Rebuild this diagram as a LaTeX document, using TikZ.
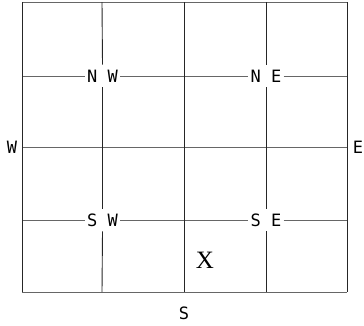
\documentclass[tikz,border=0pt]{standalone}
\usepackage{fontspec}
\newfontfamily\labmono{DejaVu Sans Mono}
\newfontfamily\labserif{Liberation Serif}
\begin{document}
\begin{tikzpicture}[x=1pt,y=-1pt,
  frame/.style={line width=0.9pt,black!85},
  hline/.style={line width=0.7pt,black!60},
  vline/.style={line width=0.9pt,black!85},
  lab/.style={font=\labmono\fontsize{17}{17}\selectfont,inner xsep=2pt,inner ysep=5pt,text height=12.5pt,text depth=0pt},
  big/.style={font=\labserif\fontsize{25}{25}\selectfont,inner sep=0pt}]
\useasboundingbox (0,0) rectangle (364,325);
% frame corners
\coordinate (tl) at (22,2);
\coordinate (tr) at (347,2);
\coordinate (bl) at (22,292);
\coordinate (br) at (347,292);
% frame side points
\coordinate (l1) at (22,76);
\coordinate (l2) at (22,147);
\coordinate (l3) at (22,220);
\coordinate (r1) at (347,76);
\coordinate (r2) at (347,147);
\coordinate (r3) at (347,220);
\coordinate (t1) at (102,2);
\coordinate (t2) at (184,2);
\coordinate (t3) at (266,2);
\coordinate (b1) at (102,292);
\coordinate (b2) at (184,292);
\coordinate (b3) at (266,292);
% labels
\node[lab] (nw) at (102.5,76) {N W};
\node[lab] (ne) at (266,76) {N E};
\node[lab] (sw) at (102.5,220) {S W};
\node[lab] (se) at (266,220) {S E};
\node[lab,inner sep=0pt] (w) at (12,147) {W};
\node[lab,inner sep=0pt] (e) at (358,147) {E};
\node[lab,inner sep=0pt] (s) at (184,313) {S};
\node[big] (x) at (205,260) {X};
% horizontal lines
\draw[hline] (tl) -- (tr);
\draw[hline] (bl) -- (br);
\draw[hline] (l2) -- (r2);
\draw[hline] (l1) -- (nw.west);
\draw[hline] (nw.east) -- (ne.west);
\draw[hline] (ne.east) -- (r1);
\draw[hline] (l3) -- (sw.west);
\draw[hline] (sw.east) -- (se.west);
\draw[hline] (se.east) -- (r3);
% vertical lines
\draw[frame] (tl) -- (bl);
\draw[frame] (tr) -- (br);
\draw[vline] (t2) -- (b2);
\draw[vline] (t1) -- (nw.north);
\draw[vline] (nw.south) -- (sw.north);
\draw[vline] (sw.south) -- (b1);
\draw[vline] (t3) -- (ne.north);
\draw[vline] (ne.south) -- (se.north);
\draw[vline] (se.south) -- (b3);
\end{tikzpicture}
\end{document}
